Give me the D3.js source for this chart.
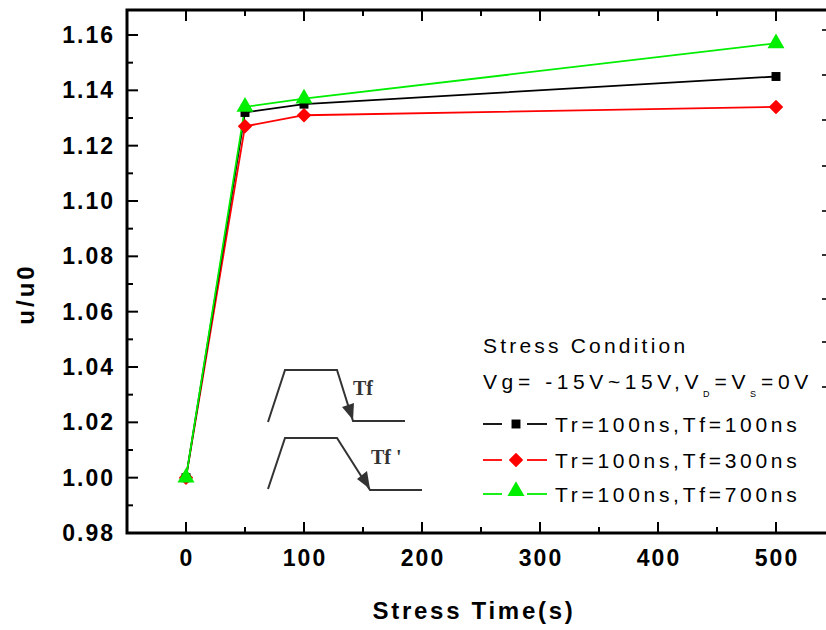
<!DOCTYPE html>
<html>
<head>
<meta charset="utf-8">
<script src="https://cdn.jsdelivr.net/npm/d3@7"></script>
<style>
  body { margin: 0; background: #fff; }
  svg { display: block; }
  .tick-label { font-family: Arial, "Liberation Sans", sans-serif; font-weight: bold; font-size: 23px; letter-spacing: 2px; }
  .legend { font-family: Arial, "Liberation Sans", sans-serif; font-size: 21px; letter-spacing: 3.2px; }
</style>
</head>
<body>
<div id="chart"></div>
<script>
// stress time (s)
var times = [0, 50, 100, 500];

// mobility ratio u/u0 for each pulse condition
var blackVals = [1.000, 1.132, 1.135, 1.145];
var redVals   = [1.000, 1.127, 1.131, 1.134];
var greenVals = [1.000, 1.134, 1.137, 1.157];

var seriesNames = ["Tr=100ns,Tf=100ns", "Tr=100ns,Tf=300ns", "Tr=100ns,Tf=700ns"];

var xTicks = [0, 100, 200, 300, 400, 500];
var xMinor = [50, 150, 250, 350, 450];
var yTicks = [0.98, 1.00, 1.02, 1.04, 1.06, 1.08, 1.10, 1.12, 1.14, 1.16];
var yMinor = [0.99, 1.01, 1.03, 1.05, 1.07, 1.09, 1.11, 1.13, 1.15];

function drawChart() {
  var width = 826, height = 630;
  var frameLeft = 127, frameTop = 10, frameBottom = 533, frameRight = 840;

  var x = d3.scaleLinear().domain([0, 500]).range([186, 776]);
  var y = d3.scaleLinear().domain([0.98, 1.16]).range([533, 35]);

  var svg = d3.select('#chart')
    .append('svg')
    .attr('width', width)
    .attr('height', height);

  // frame (right side runs past the picture edge)
  svg.append('path')
    .attr('d', 'M' + frameRight + ',' + frameTop + 'H' + frameLeft + 'V' + frameBottom + 'H' + frameRight)
    .attr('fill', 'none')
    .attr('stroke', '#000')
    .attr('stroke-width', 3);

  // ticks, all pointing inwards
  var tk = svg.append('g').attr('stroke', '#000').attr('stroke-width', 2);
  xTicks.forEach(function(t) {
    tk.append('line').attr('x1', x(t)).attr('x2', x(t)).attr('y1', frameBottom).attr('y2', frameBottom - 11);
    tk.append('line').attr('x1', x(t)).attr('x2', x(t)).attr('y1', frameTop).attr('y2', frameTop + 11);
  });
  xMinor.forEach(function(t) {
    tk.append('line').attr('x1', x(t)).attr('x2', x(t)).attr('y1', frameBottom).attr('y2', frameBottom - 6);
    tk.append('line').attr('x1', x(t)).attr('x2', x(t)).attr('y1', frameTop).attr('y2', frameTop + 6);
  });
  yTicks.forEach(function(t) {
    tk.append('line').attr('x1', frameLeft).attr('x2', frameLeft + 11).attr('y1', y(t)).attr('y2', y(t));
  });
  yMinor.forEach(function(t) {
    tk.append('line').attr('x1', frameLeft).attr('x2', frameLeft + 6).attr('y1', y(t)).attr('y2', y(t));
  });

  // tick labels
  svg.append('g').selectAll('text')
    .data(xTicks)
    .enter().append('text')
      .attr('class', 'tick-label')
      .attr('x', d => x(d) + 1)
      .attr('y', 566)
      .attr('text-anchor', 'middle')
      .text(d => d);

  svg.append('g').selectAll('text')
    .data(yTicks)
    .enter().append('text')
      .attr('class', 'tick-label')
      .attr('x', 115)
      .attr('y', d => y(d) + 8)
      .attr('text-anchor', 'end')
      .text(d => d3.format('.2f')(d));

  // axis titles
  svg.append('text')
    .attr('x', 474).attr('y', 619)
    .attr('text-anchor', 'middle')
    .style('font-family', 'Arial, "Liberation Sans", sans-serif')
    .style('font-weight', 'bold')
    .style('font-size', '24px')
    .style('letter-spacing', '2.7px')
    .text('Stress Time(s)');

  svg.append('text')
    .attr('transform', 'translate(34,294) rotate(-90)')
    .attr('text-anchor', 'middle')
    .style('font-family', 'Arial, "Liberation Sans", sans-serif')
    .style('font-weight', 'bold')
    .style('font-size', '24px')
    .style('letter-spacing', '3px')
    .text('u/u0');

  // data
  var colors = ['#000000', '#ff0000', '#00ee00'];
  var allSeries = [blackVals, redVals, greenVals];
  var shapes = [d3.symbolSquare, d3.symbolSquare, d3.symbolTriangle];
  var sizes = [80, 78, 125];
  var rot = [0, 45, 0];

  var line = d3.line()
    .x((d, i) => x(times[i]))
    .y(d => y(d));

  var order = [1, 0, 2];
  order.forEach(function(s) {
    svg.append('path')
      .datum(allSeries[s])
      .attr('d', line)
      .attr('fill', 'none')
      .attr('stroke', colors[s])
      .attr('stroke-width', 1.8);
  });
  order.forEach(function(s) {
    svg.append('g').selectAll('path')
      .data(allSeries[s])
      .enter().append('path')
        .attr('transform', (d, i) => 'translate(' + x(times[i]) + ',' + y(d) + ') rotate(' + rot[s] + ')')
        .attr('d', d3.symbol().type(shapes[s]).size(sizes[s]))
        .attr('fill', colors[s])
        .attr('stroke', colors[s])
        .attr('stroke-width', s === 1 ? 1.5 : 0)
        .attr('stroke-linejoin', 'round');
  });

  // legend
  var lg = svg.append('g');
  lg.append('text').attr('class', 'legend').attr('x', 483).attr('y', 353).text('Stress Condition');
  var vg = lg.append('text').attr('class', 'legend').attr('x', 483).attr('y', 389)
    .style('letter-spacing', '4.6px');
  vg.append('tspan').text('Vg= -15V~15V,V');
  vg.append('tspan').attr('dy', 8).style('font-size', '9px').style('letter-spacing', '1px').text('D');
  vg.append('tspan').attr('dy', -8).attr('dx', 4).text('=V');
  vg.append('tspan').attr('dy', 8).style('font-size', '9px').style('letter-spacing', '1px').text('S');
  vg.append('tspan').attr('dy', -8).attr('dx', 4).text('=0V');

  var legendRows = [424, 460, 494];
  seriesNames.forEach(function(name, s) {
    var ry = legendRows[s];
    lg.append('line').attr('x1', 483).attr('x2', 502).attr('y1', ry).attr('y2', ry)
      .attr('stroke', colors[s]).attr('stroke-width', 1.8);
    lg.append('line').attr('x1', 527).attr('x2', 547).attr('y1', ry).attr('y2', ry)
      .attr('stroke', colors[s]).attr('stroke-width', 1.8);
    lg.append('path')
      .attr('transform', 'translate(516,' + (ry - (s === 2 ? 3 : 0)) + ') rotate(' + rot[s] + ')')
      .attr('d', d3.symbol().type(shapes[s]).size(sizes[s]))
      .attr('fill', colors[s])
      .attr('stroke', colors[s])
      .attr('stroke-width', s === 1 ? 1.5 : 0)
      .attr('stroke-linejoin', 'round');
    lg.append('text').attr('class', 'legend')
      .attr('x', 555).attr('y', ry + 8)
      .style('letter-spacing', '3.7px')
      .text(name);
  });

  // inset: gate pulse sketches
  var inset = svg.append('g')
    .attr('fill', 'none')
    .attr('stroke', '#333')
    .attr('stroke-width', 2);
  inset.append('path').attr('d', 'M268,422L285,370H337L353,421H405');
  inset.append('path').attr('d', 'M268,489L285,438H337L370,490H422');
  // arrowheads
  svg.append('path').attr('d', 'M353,420L342,407L354,403Z').attr('fill', '#333');
  svg.append('path').attr('d', 'M370,489L357,479L367,471Z').attr('fill', '#333');

  svg.append('text').attr('x', 353).attr('y', 395)
    .style('font-family', '"Liberation Serif", "DejaVu Serif", serif')
    .style('font-weight', 'bold').style('font-size', '20px')
    .attr('fill', '#333')
    .text('Tf');
  svg.append('text').attr('x', 371).attr('y', 464)
    .style('font-family', '"Liberation Serif", "DejaVu Serif", serif')
    .style('font-weight', 'bold').style('font-size', '20px')
    .attr('fill', '#333')
    .text("Tf '");

  // cut-off marks of the neighbouring panel at the right edge
  var edgeMarks = [30, 75, 120, 166, 211, 255, 299, 342, 387];
  svg.append('g').selectAll('rect')
    .data(edgeMarks)
    .enter().append('rect')
      .attr('x', 822).attr('y', d => d - 1)
      .attr('width', 4).attr('height', 2)
      .attr('fill', '#333');
}

window.onload = drawChart;
</script>
</body>
</html>
